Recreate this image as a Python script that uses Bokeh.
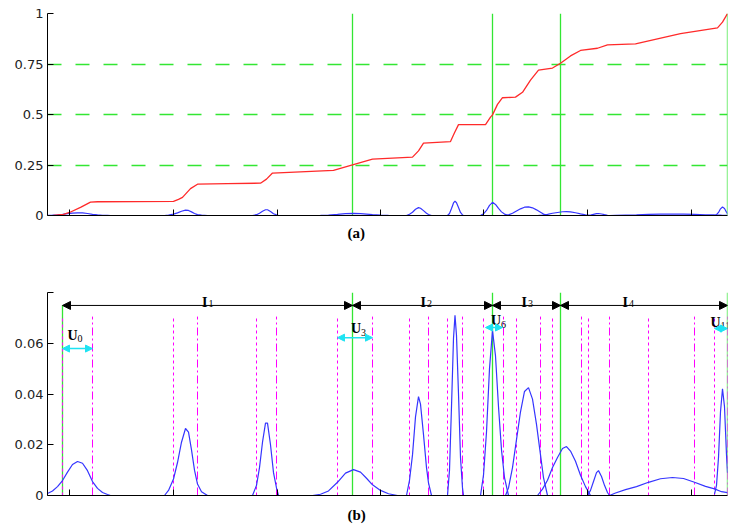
from bokeh.plotting import figure
from bokeh.layouts import column
from bokeh.models import Range1d, FixedTicker, ColumnDataSource, Arrow, NormalHead, Title
from bokeh.embed import file_html
from bokeh.resources import INLINE
from bokeh.core.properties import value

# ---------------- data ----------------
x_ticks = [69, 173, 277, 380, 483, 587, 691]
boundaries = [62, 352, 492, 560, 727]

# cumulative curve (top panel)
cdf_x = [53, 63, 69, 80, 90, 97, 173, 178, 182, 190, 197, 227, 260, 266, 272, 333, 352, 372, 412,
         418, 423, 450, 454, 458, 485, 490, 492, 497, 502, 515, 522, 530, 538, 552, 560, 570, 580,
         597, 607, 635, 680, 717, 722, 727]
cdf_y = [0.0, 0.005, 0.015, 0.04, 0.066, 0.068, 0.07, 0.08, 0.09, 0.133, 0.155, 0.158, 0.16, 0.18,
         0.21, 0.223, 0.251, 0.279, 0.289, 0.32, 0.358, 0.366, 0.41, 0.45, 0.45, 0.487, 0.498, 0.55,
         0.583, 0.586, 0.61, 0.67, 0.72, 0.73, 0.754, 0.79, 0.817, 0.828, 0.845, 0.85, 0.9, 0.929,
         0.957, 1.0]

# component densities
peak01_x = [47, 52, 57, 62, 67, 72, 77, 82, 87, 92, 97, 102, 107, 110]
peak01_y = [0.0008, 0.0018, 0.0035, 0.0059, 0.0092, 0.0122, 0.0134, 0.0127, 0.0098, 0.0055, 0.0028, 0.0012, 0.0004, 0.0]
peak02_x = [164, 168, 173, 177, 181, 185, 188, 191, 194, 197, 201, 207]
peak02_y = [0.0, 0.002, 0.0065, 0.013, 0.021, 0.0264, 0.025, 0.018, 0.010, 0.0045, 0.0015, 0.0]
peak03_x = [252, 256, 259, 262, 265, 267, 270, 273, 276, 278]
peak03_y = [0.0, 0.004, 0.011, 0.021, 0.0285, 0.0285, 0.02, 0.009, 0.003, 0.0]
peak04_x = [312, 320, 328, 337, 345, 353, 360, 366, 372, 380, 388, 397]
peak04_y = [0.0, 0.0005, 0.0018, 0.0052, 0.0088, 0.0102, 0.0092, 0.0068, 0.0042, 0.002, 0.0007, 0.0]
peak05_x = [406, 409, 412, 415, 418, 420, 423, 426, 428, 431]
peak05_y = [0.0, 0.006, 0.016, 0.031, 0.039, 0.036, 0.024, 0.011, 0.005, 0.0]
peak06_x = [447, 449, 451, 453, 454.5, 456, 458, 460, 462, 463]
peak06_y = [0.0, 0.01, 0.035, 0.062, 0.071, 0.063, 0.04, 0.015, 0.003, 0.0]
peak07_x = [480, 483, 486, 489, 492, 495, 498, 501, 504, 508]
peak07_y = [0.0, 0.008, 0.025, 0.05, 0.065, 0.055, 0.035, 0.018, 0.007, 0.0]
peak08_x = [505, 508, 512, 516, 520, 524, 528, 532, 536, 540, 543, 547]
peak08_y = [0.0, 0.003, 0.011, 0.022, 0.033, 0.041, 0.0425, 0.038, 0.028, 0.016, 0.007, 0.0]
peak09_x = [537, 542, 547, 552, 557, 562, 566, 570, 575, 580, 585, 590]
peak09_y = [0.0, 0.0025, 0.006, 0.011, 0.015, 0.0185, 0.0193, 0.0175, 0.0135, 0.008, 0.0035, 0.0]
peak10_x = [587, 590, 593, 596, 598, 601, 604, 607, 609]
peak10_y = [0.0, 0.002, 0.0055, 0.009, 0.0098, 0.0075, 0.004, 0.0012, 0.0]
peak11_x = [609, 615, 625, 636, 648, 660, 672, 683, 694, 705, 714, 721, 727]
peak11_y = [0.0, 0.001, 0.0023, 0.0035, 0.0052, 0.0066, 0.0071, 0.0067, 0.0052, 0.0036, 0.0026, 0.0015, 0.0011]
peak12_x = [714, 716, 718, 720, 722, 724, 726, 727]
peak12_y = [0.0005, 0.004, 0.015, 0.033, 0.042, 0.035, 0.016, 0.009]

peaks_x = [peak01_x, peak02_x, peak03_x, peak04_x, peak05_x, peak06_x,
           peak07_x, peak08_x, peak09_x, peak10_x, peak11_x, peak12_x]
peaks_y = [peak01_y, peak02_y, peak03_y, peak04_y, peak05_y, peak06_y,
           peak07_y, peak08_y, peak09_y, peak10_y, peak11_y, peak12_y]

# component bounds
left_bounds = [62, 173, 256, 337, 409, 447, 483, 516, 552, 588, 648, 714]
right_bounds = [92, 197, 276, 372, 428, 462, 503, 540, 581, 609, 694, 727]

# intervals I1..I4
interval_start = [62, 352, 492, 560]
interval_end = [352, 492, 560, 727]
interval_names = ["I", "I", "I", "I"]
interval_subs = ["1", "2", "3", "4"]
interval_label_x = [207, 425.5, 526.5, 627.5]

# U ranges
u_start = [62, 337, 485, 714]
u_end = [92, 372, 502, 727]
u_names = ["U", "U", "U", "U"]
u_subs = ["0", "3", "6", "11"]
u_label_x = [77, 360.5, 500.5, 720]
u_label_y = [0.0630, 0.0658, 0.0690, 0.0682]
u_sub_y = [0.0618, 0.0642, 0.0675, 0.0668]
u_arrow_y = [0.0579, 0.0622, 0.0662, 0.0658]

top_yticks = [0, 0.25, 0.5, 0.75, 1]
top_ylabels = ["0", "0.25", "0.5", "0.75", "1"]
bot_yticks = [0, 0.02, 0.04, 0.06, 0.08]
bot_ylabels = ["0", "0.02", "0.04", "0.06", ""]

GREEN = "#33e633"
MAGENTA = "#ff00ff"
BLUE = "#3535ff"
RED = "#ff2a2a"
CYAN = "#1ee3f2"
TICK_FONT = "DejaVu Sans"
SERIF = "Liberation Serif"


def style_axes(p, yticks, ylabels):
    p.xaxis.ticker = FixedTicker(ticks=x_ticks)
    p.xaxis.major_label_text_color = None
    p.xaxis.major_label_standoff = 0
    p.xaxis.major_tick_in = 6
    p.xaxis.major_tick_out = 0
    p.xaxis.minor_tick_line_color = None
    p.yaxis.ticker = FixedTicker(ticks=yticks)
    p.yaxis.major_label_overrides = {t: l for t, l in zip(yticks, ylabels)}
    p.yaxis.major_tick_in = 6
    p.yaxis.major_tick_out = 0
    p.yaxis.minor_tick_line_color = None
    p.yaxis.major_label_standoff = 4
    p.yaxis.major_label_text_font = TICK_FONT
    p.yaxis.major_label_text_font_size = "13px"
    p.yaxis.major_label_text_color = "#222222"
    for ax in (p.xaxis, p.yaxis):
        ax.axis_line_color = "black"
        ax.major_tick_line_color = "black"
    p.outline_line_color = None
    p.xgrid.visible = False


# ---------------- top panel ----------------
p1 = figure(width=729, height=262, output_backend="svg", toolbar_location=None,
            x_range=Range1d(47, 727), y_range=Range1d(0, 1),
            min_border_left=47, min_border_right=2, min_border_top=13, min_border_bottom=47)
style_axes(p1, top_yticks, top_ylabels)
p1.ygrid.ticker = FixedTicker(ticks=[0.25, 0.5, 0.75, 1])
p1.ygrid.grid_line_color = GREEN
p1.ygrid.grid_line_dash = "14 14"
p1.ygrid.grid_line_width = 1.3

p1.segment(x0=boundaries[1:], y0=[0] * 4, x1=boundaries[1:], y1=[1] * 4,
           line_color=GREEN, line_width=1.3)
p1.multi_line(xs=peaks_x, ys=peaks_y, line_color=BLUE, line_width=1.2)
p1.line(cdf_x, cdf_y, line_color=RED, line_width=1.3)
p1.add_layout(Title(text="(a)", align="left", offset=300, standoff=15, text_font=SERIF,
                    text_font_style="bold", text_font_size="15px", text_color="black"), "below")

# ---------------- bottom panel ----------------
p2 = figure(width=729, height=269, output_backend="svg", toolbar_location=None,
            x_range=Range1d(47, 727), y_range=Range1d(0, 0.08),
            min_border_left=47, min_border_right=2, min_border_top=30, min_border_bottom=36)
style_axes(p2, bot_yticks, bot_ylabels)
p2.ygrid.visible = False

n_b = len(boundaries)
p2.segment(x0=boundaries[1:-1], y0=[0] * (n_b - 2), x1=boundaries[1:-1], y1=[0.08] * (n_b - 2),
           line_color=GREEN, line_width=1.3)
p2.segment(x0=[boundaries[0], boundaries[-1]], y0=[0, 0], x1=[boundaries[0], boundaries[-1]],
           y1=[0.075, 0.08], line_color=GREEN, line_width=1.3)
p2.segment(x0=left_bounds, y0=[0] * len(left_bounds), x1=left_bounds, y1=[0.0705] * len(left_bounds),
           line_color=MAGENTA, line_width=1, line_dash="3 3")
p2.segment(x0=right_bounds, y0=[0] * len(right_bounds), x1=right_bounds, y1=[0.0705] * len(right_bounds),
           line_color=MAGENTA, line_width=1, line_dash="8 3 2 3")
p2.multi_line(xs=peaks_x, ys=peaks_y, line_color=BLUE, line_width=1.2)

isrc = ColumnDataSource(dict(x0=interval_start, x1=interval_end, y=[0.0749] * len(interval_start)))
p2.add_layout(Arrow(start=NormalHead(size=8, fill_color="black", line_color="black"),
                    end=NormalHead(size=8, fill_color="black", line_color="black"),
                    x_start="x0", y_start="y", x_end="x1", y_end="y", source=isrc,
                    line_color="black", line_width=1))
usrc = ColumnDataSource(dict(x0=u_start, x1=u_end, y=u_arrow_y))
p2.add_layout(Arrow(start=NormalHead(size=7, fill_color=CYAN, line_color=CYAN),
                    end=NormalHead(size=7, fill_color=CYAN, line_color=CYAN),
                    x_start="x0", y_start="y", x_end="x1", y_end="y", source=usrc,
                    line_color=CYAN, line_width=1.5))

p2.text(x=interval_label_x, y=[0.0761] * 4, text=interval_names, text_font=value(SERIF),
        text_font_style="bold", text_font_size="14px", text_align="right",
        text_baseline="alphabetic", text_color="black")
p2.text(x=interval_label_x, y=[0.0755] * 4, text=interval_subs, text_font=value(SERIF),
        text_font_size="10px", text_align="left", text_baseline="alphabetic",
        text_color="black", x_offset=1)
p2.text(x=u_label_x, y=u_label_y, text=u_names, text_font=value(SERIF),
        text_font_style="bold", text_font_size="14px", text_align="right",
        text_baseline="alphabetic", text_color="black")
p2.text(x=u_label_x, y=u_sub_y, text=u_subs, text_font=value(SERIF),
        text_font_size="10px", text_align="left", text_baseline="alphabetic",
        text_color="black", x_offset=0)
p2.add_layout(Title(text="(b)", align="left", offset=300, standoff=18, text_font=SERIF,
                    text_font_style="bold", text_font_size="15px", text_color="black"), "below")

layout = column(p1, p2, spacing=0)
open("out.html", "w").write(file_html(layout, INLINE))
